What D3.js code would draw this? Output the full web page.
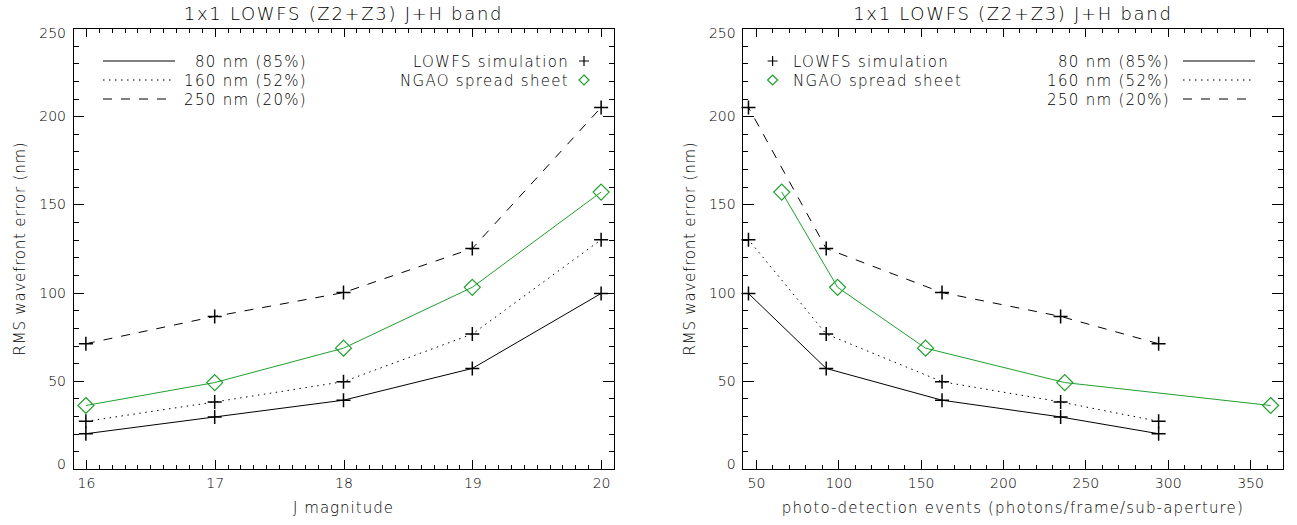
<!DOCTYPE html>
<html>
<head>
<meta charset="utf-8">
<script src="https://cdn.jsdelivr.net/npm/d3@7/dist/d3.min.js"></script>
<style>
  body { margin: 0; background: #fff; }
  svg text { font-family: "DejaVu Sans", sans-serif; font-weight: 200; fill: #000; }
</style>
</head>
<body>
<div id="chart"></div>
<script>
// values (both panels share the same RMS values)
const jMag = [16, 17, 18, 19, 20];
const photons = [294.5, 235, 163, 92.7, 45.5];          // LOWFS simulation, per J magnitude
const ngaoPhotons = [362.5, 237.5, 153, 99.6, 65.7];    // NGAO spread sheet, per J magnitude
const rms80 = [20, 29.5, 39, 57, 99.5];
const rms160 = [27, 38, 49.5, 76.5, 130];
const rms250 = [71, 86.5, 100, 125, 205];
const rmsNgao = [36, 49, 68.5, 103, 157];

const seriesNames = ["80 nm (85%)", "160 nm (52%)", "250 nm (20%)"];
const markerNames = ["LOWFS simulation", "NGAO spread sheet"];
const titleText = "1x1 LOWFS (Z2+Z3) J+H band";
const yLabel = "RMS wavefront error (nm)";
const yTicks = [0, 50, 100, 150, 200, 250];
const jTicks = [16, 17, 18, 19, 20];
const photonTicks = [50, 100, 150, 200, 250, 300, 350];

const green = "#1f9f2f";
const dashes = [null, "1.5,4.5", "9,9"];

const svg = d3.select("#chart").append("svg")
    .attr("width", 1297)
    .attr("height", 525)
    .style("background", "#fff");

// IDL style: ticks pointing inward on all four sides, labels only bottom/left
function drawPanel(p) {
    const x = d3.scaleLinear().domain(p.xDomain).range([p.left, p.right]);
    const y = d3.scaleLinear().domain([0, 250]).range([469, 28]);
    const g = svg.append("g");

    const axisStyle = sel => {
        sel.select(".domain").remove();
        sel.selectAll("line").attr("stroke", "#000").attr("shape-rendering", "crispEdges");
        sel.selectAll("text").attr("font-size", "14px").attr("fill", "#000")
           .style("font-family", "DejaVu Sans").style("font-weight", 200);
    };

    // major + minor x ticks
    g.append("g").attr("transform", "translate(0,469)")
        .call(d3.axisBottom(x).tickValues(p.xTicks).tickSize(-9).tickPadding(9).tickFormat(d3.format("d")))
        .call(axisStyle).attr("font-size", null);
    g.append("g").attr("transform", "translate(0,469)")
        .call(d3.axisBottom(x).tickValues(p.xMinor).tickSize(-4.5).tickFormat(""))
        .call(axisStyle);
    g.append("g").attr("transform", "translate(0,28)")
        .call(d3.axisTop(x).tickValues(p.xTicks).tickSize(-9).tickFormat(""))
        .call(axisStyle);
    g.append("g").attr("transform", "translate(0,28)")
        .call(d3.axisTop(x).tickValues(p.xMinor).tickSize(-4.5).tickFormat(""))
        .call(axisStyle);

    // y ticks
    const yl = g.append("g").attr("transform", `translate(${p.left},0)`)
        .call(d3.axisLeft(y).tickValues(yTicks).tickSize(-11).tickPadding(7).tickFormat(d3.format("d")))
        .call(axisStyle);
    yl.selectAll(".tick text").filter(d => d === 0).attr("dy", "-0.03em");
    yl.selectAll(".tick text").filter(d => d === 250).attr("dy", "0.68em");
    g.append("g").attr("transform", `translate(${p.left},0)`)
        .call(d3.axisLeft(y).tickValues(d3.range(0, 251, 10)).tickSize(-5.5).tickFormat(""))
        .call(axisStyle);
    g.append("g").attr("transform", `translate(${p.right},0)`)
        .call(d3.axisRight(y).tickValues(yTicks).tickSize(-11).tickFormat(""))
        .call(axisStyle);
    g.append("g").attr("transform", `translate(${p.right},0)`)
        .call(d3.axisRight(y).tickValues(d3.range(0, 251, 10)).tickSize(-5.5).tickFormat(""))
        .call(axisStyle);

    // frame
    g.append("rect")
        .attr("x", p.left).attr("y", 28)
        .attr("width", p.right - p.left).attr("height", 441)
        .attr("fill", "none").attr("stroke", "#000").attr("shape-rendering", "crispEdges");

    // titles
    g.append("text")
        .attr("x", (p.left + p.right) / 2).attr("y", 20)
        .attr("text-anchor", "middle")
        .attr("font-size", "18px").style("letter-spacing", "1.7px")
        .text(titleText);
    g.append("text")
        .attr("x", (p.left + p.right) / 2).attr("y", 513)
        .attr("text-anchor", "middle")
        .attr("font-size", "15px").style("letter-spacing", p.xLabelSpacing)
        .text(p.xLabel);
    g.append("text")
        .attr("transform", `translate(${p.left - 48},${(28 + 469) / 2}) rotate(-90)`)
        .attr("text-anchor", "middle")
        .attr("font-size", "15px").style("letter-spacing", "0.8px")
        .text(yLabel);

    // data lines
    const line = d3.line().x(d => x(d[0])).y(d => y(d[1]));
    [rms80, rms160, rms250].forEach((vals, i) => {
        const pts = p.xSim.map((xv, k) => [xv, vals[k]]);
        g.append("path")
            .attr("d", line(pts))
            .attr("fill", "none").attr("stroke", "#000").attr("stroke-width", 1)
            .attr("stroke-dasharray", dashes[i]);
        g.selectAll(null).data(pts).enter().append("path")
            .attr("transform", d => `translate(${x(d[0])},${y(d[1])})`)
            .attr("d", "M-7,0H7M0,-7V7")
            .attr("stroke", "#000").attr("stroke-width", 1.5);
    });
    const ngPts = p.xNgao.map((xv, k) => [xv, rmsNgao[k]]);
    g.append("path")
        .attr("d", line(ngPts))
        .attr("fill", "none").attr("stroke", green).attr("stroke-width", 1);
    g.selectAll(null).data(ngPts).enter().append("path")
        .attr("transform", d => `translate(${x(d[0])},${y(d[1])})`)
        .attr("d", "M0,-8L8,0L0,8L-8,0Z")
        .attr("fill", "none").attr("stroke", green).attr("stroke-width", 1.2);

    // legends
    const legY = [61, 80, 99];
    seriesNames.forEach((name, i) => {
        const L = p.lineLegend;
        g.append("line")
            .attr("x1", L.x1).attr("x2", L.x2).attr("y1", legY[i]).attr("y2", legY[i])
            .attr("stroke", "#000").attr("stroke-dasharray", dashes[i]);
        g.append("text")
            .attr("x", L.textEnd).attr("y", legY[i] + 5.5)
            .attr("text-anchor", "end")
            .attr("font-size", "15px").style("letter-spacing", "1.3px")
            .text(name);
    });
    markerNames.forEach((name, i) => {
        const M = p.markLegend;
        g.append("path")
            .attr("transform", `translate(${M.sym},${legY[i]})`)
            .attr("d", i === 0 ? "M-5,0H5M0,-5V5" : "M0,-5L5,0L0,5L-5,0Z")
            .attr("fill", "none").attr("stroke", i === 0 ? "#000" : green).attr("stroke-width", 1.2);
        g.append("text")
            .attr("x", M.text).attr("y", legY[i] + 5.5)
            .attr("text-anchor", M.anchor)
            .attr("font-size", "15px").style("letter-spacing", "1.3px")
            .text(name);
    });
}

drawPanel({
    left: 73, right: 614,
    xDomain: [15.9, 20.1],
    xTicks: jTicks,
    xMinor: d3.range(159, 202).map(d => d / 10),
    xLabel: "J magnitude",
    xLabelSpacing: "1px",
    xSim: jMag, xNgao: jMag,
    lineLegend: {x1: 103, x2: 175, textEnd: 307},
    markLegend: {sym: 584, text: 569, anchor: "end"}
});

drawPanel({
    left: 742.7, right: 1283,
    xDomain: [42, 370],
    xTicks: photonTicks,
    xMinor: d3.range(50, 371, 10),
    xLabel: "photo-detection events (photons/frame/sub-aperture)",
    xLabelSpacing: "1.15px",
    xSim: photons, xNgao: ngaoPhotons,
    lineLegend: {x1: 1183, x2: 1255, textEnd: 1170},
    markLegend: {sym: 772.6, text: 793, anchor: "start"}
});
</script>
</body>
</html>
